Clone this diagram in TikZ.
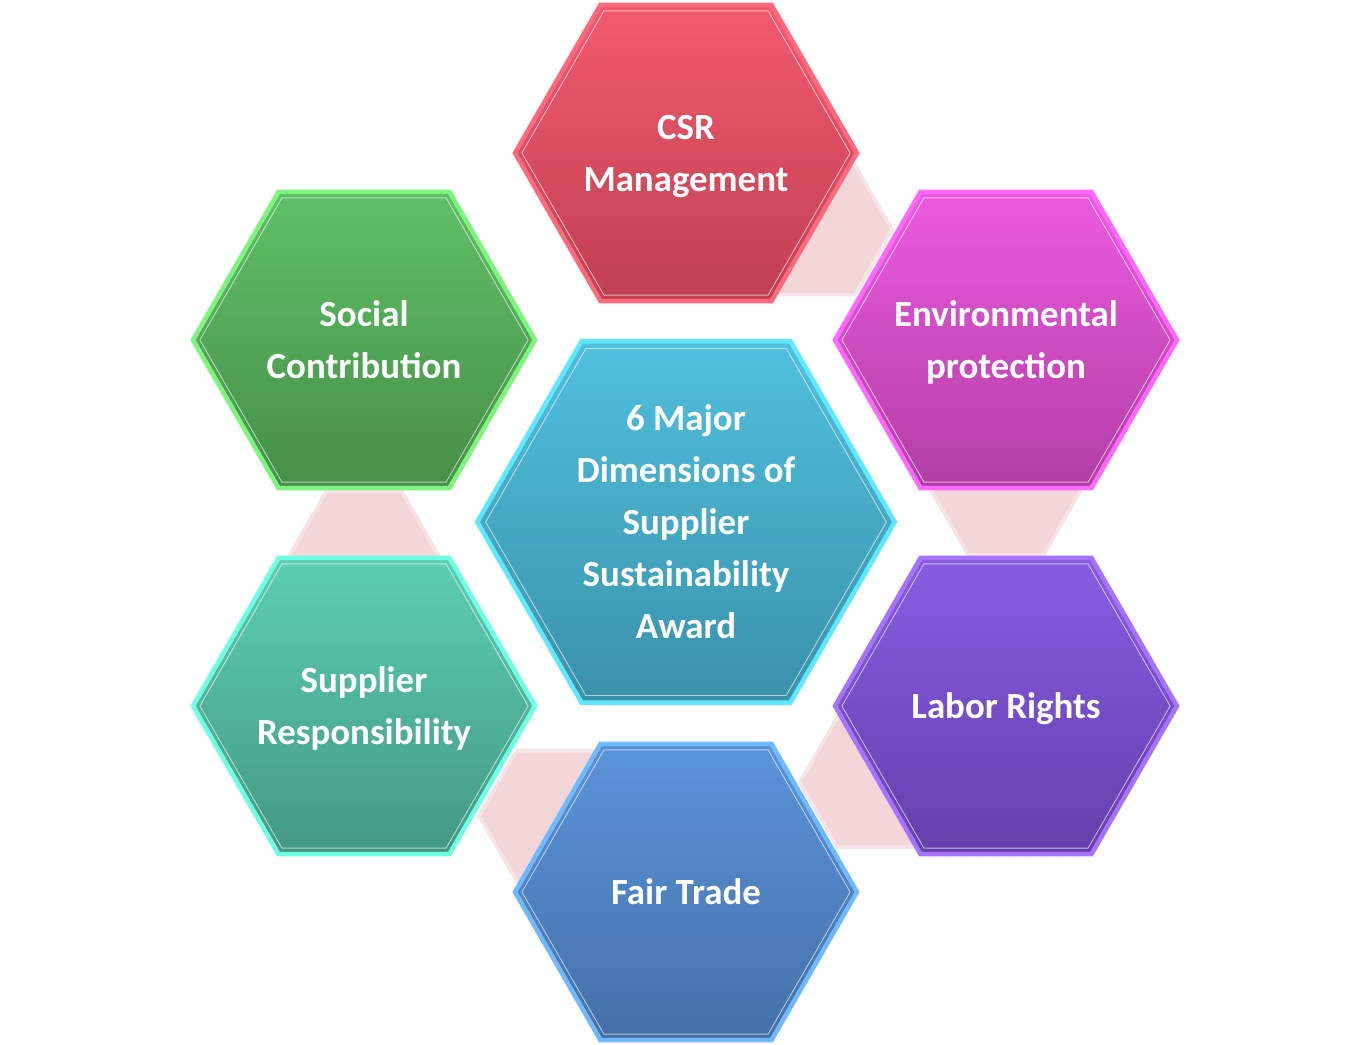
\documentclass[tikz,border=0pt]{standalone}
\usepackage{fontspec}
\setmainfont{Carlito}
\usetikzlibrary{shapes.geometric,calc,backgrounds}

\definecolor{awardtop}{RGB}{80,192,222}
\definecolor{awardbot}{RGB}{58,145,170}
\definecolor{awardrim}{RGB}{95,232,255}
\definecolor{csrtop}{RGB}{243,90,110}
\definecolor{csrbot}{RGB}{190,64,80}
\definecolor{csrrim}{RGB}{255,105,125}
\definecolor{envtop}{RGB}{235,90,222}
\definecolor{envbot}{RGB}{178,62,165}
\definecolor{envrim}{RGB}{255,105,255}
\definecolor{labortop}{RGB}{135,92,226}
\definecolor{laborbot}{RGB}{100,64,172}
\definecolor{laborrim}{RGB}{165,115,255}
\definecolor{fairtop}{RGB}{90,148,216}
\definecolor{fairbot}{RGB}{68,112,168}
\definecolor{fairrim}{RGB}{110,185,255}
\definecolor{suppliertop}{RGB}{92,206,180}
\definecolor{supplierbot}{RGB}{68,152,132}
\definecolor{supplierrim}{RGB}{110,255,228}
\definecolor{socialtop}{RGB}{96,192,102}
\definecolor{socialbot}{RGB}{70,142,72}
\definecolor{socialrim}{RGB}{125,245,125}
\definecolor{pinkfill}{RGB}{242,214,216}
\definecolor{pinkrim}{RGB}{248,228,230}

\newcommand\hexfont{\fontsize{21pt}{29.6pt}\selectfont\bfseries}
\newcommand\hexinner[1]{\draw[white,opacity=.6,line width=.5pt] ($(#1.corner 1)!.04!(#1.center)$) \foreach \k in {2,...,6}{-- ($(#1.corner \k)!.04!(#1.center)$)} -- cycle;}

\tikzset{
  hexcell/.style={regular polygon,regular polygon sides=6,minimum size=6.84cm,inner sep=-14pt,outer sep=0pt,line width=2.6pt,text=white,align=center,font=\hexfont,text depth=0pt},
  hexcol/.style n args={3}{top color=#1,bottom color=#2,draw=#3},
  pinkcell/.style={regular polygon,regular polygon sides=6,minimum size=3cm,inner sep=0pt,fill=pinkfill,draw=pinkrim,line width=2pt}
}

\begin{document}
\begin{tikzpicture}[x=0.02cm,y=-0.02cm]
\useasboundingbox (0,0) rectangle (1370,1045);
% hexagons
\node[hexcell,hexcol={awardtop}{awardbot}{awardrim},minimum size=8.35cm] (award) at (686,522) {6 Major\\Dimensions of\\Supplier\\Sustainability\\Award};
\node[hexcell,hexcol={csrtop}{csrbot}{csrrim}] (csr) at (686,153) {CSR\\Management};
\node[hexcell,hexcol={envtop}{envbot}{envrim}] (env) at (1006,340) {Environmental\\protection};
\node[hexcell,hexcol={labortop}{laborbot}{laborrim}] (labor) at (1006,706) {Labor Rights};
\node[hexcell,hexcol={fairtop}{fairbot}{fairrim}] (fair) at (686,892) {Fair Trade};
\node[hexcell,hexcol={suppliertop}{supplierbot}{supplierrim}] (supplier) at (364,706) {Supplier\\Responsibility};
\node[hexcell,hexcol={socialtop}{socialbot}{socialrim}] (social) at (364,340) {Social\\Contribution};
\foreach \n in {award,csr,env,labor,fair,supplier,social} {\hexinner{\n}}
% pale links behind
\begin{scope}[on background layer]
\fill[white] (0,0) rectangle (1370,1045);
\node[pinkcell] (l1) at ($(csr.center)!.41!(env.center)$) {};
\node[pinkcell] (l2) at ($(env.center)!.41!(labor.center)$) {};
\node[pinkcell] (l3) at ($(labor.center)!.41!(fair.center)$) {};
\node[pinkcell] (l4) at ($(fair.center)!.41!(supplier.center)$) {};
\node[pinkcell] (l5) at ($(supplier.center)!.41!(social.center)$) {};
\end{scope}
\end{tikzpicture}
\end{document}
